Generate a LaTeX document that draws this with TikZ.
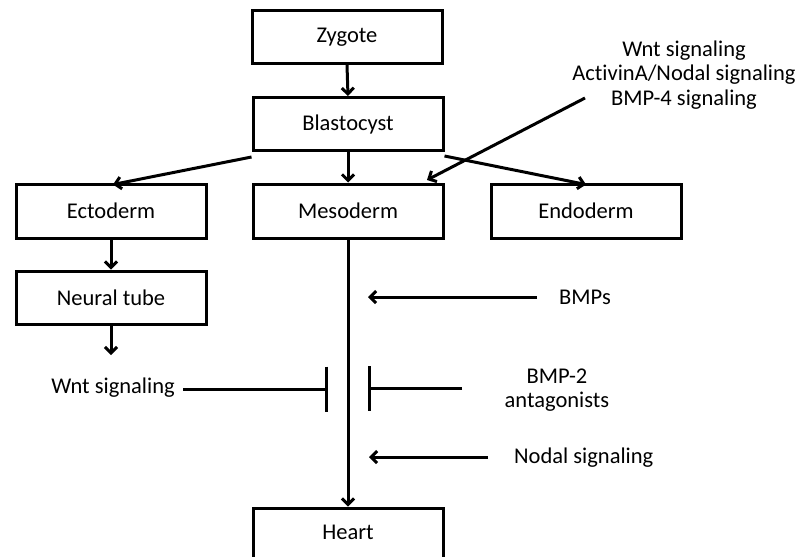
\documentclass[tikz,border=0pt]{standalone}
\usepackage{fontspec}
\setmainfont{Carlito}[Ligatures=NoCommon]
\usetikzlibrary{arrows.meta}
\begin{document}
\begin{tikzpicture}[x=1pt,y=-1pt,
  box/.style={draw,line width=3pt,minimum width=190pt,minimum height=53pt,inner sep=0pt,font=\fontsize{22.5}{24.5}\selectfont},
  lbl/.style={inner sep=0pt,align=center,font=\fontsize{22.5}{24.5}\selectfont},
  arr/.style={line width=3pt,-{Straight Barb[length=6pt,width=12pt]}},
  inh/.style={line width=3pt,-{Bar[width=45pt]}},
  ln/.style={line width=3pt}]
\clip (0,0) rectangle (801,557);
\fill[white] (0,0) rectangle (801,557);
\node[box] (zyg) at (347,37) {Zygote};
\node[box] (bla) at (348,124) {Blastocyst};
\node[box,minimum height=54pt] (ect) at (111,211) {Ectoderm};
\node[box,minimum height=54pt] (mes) at (348,211) {Mesoderm};
\node[box,minimum height=54pt] (endo) at (586,211) {Endoderm};
\node[box] (neu) at (111,297.5) {Neural tube};
\node[box,minimum height=56pt] (heart) at (348,536) {};
\node[lbl] (hearttxt) at (348,532) {Heart};
\node[lbl] (sig) at (684,75) {Wnt signaling\\ActivinA/Nodal signaling\\BMP-4 signaling};
\node[lbl] (wnt) at (113,388) {Wnt signaling};
\node[lbl] (bmps) at (585,297) {BMPs};
\node[lbl] (bmp2) at (557,390) {BMP-2\\antagonists};
\node[lbl,anchor=west] (nodal) at (514,458) {Nodal signaling};
\coordinate (sigs) at (585,98);
\coordinate (sige) at (427,180);
\coordinate (neuend) at (111,355);
\coordinate (wnts) at (183,389);
\coordinate (wnte) at (328,389);
\coordinate (bmpss) at (537,297);
\coordinate (bmpse) at (368,297);
\coordinate (b2s) at (462,388);
\coordinate (b2e) at (368,388);
\coordinate (nods) at (488,457);
\coordinate (node) at (369,457);
\draw[arr] (zyg.south) -- (bla.north);
\draw[arr] ([yshift=-5pt]bla.south west) -- ([xshift=2pt,yshift=-2pt]ect.north);
\draw[arr] ([yshift=-4pt]bla.south east) -- ([yshift=-2pt]endo.north);
\draw[arr] (bla.south) -- (mes.north);
\draw[arr] (sigs) -- (sige);
\draw[arr] (ect.south) -- (neu.north);
\draw[arr] (neu.south) -- (neuend);
\draw[arr] (mes.south) -- (heart.north);
\draw[inh] (wnts) -- (wnte);
\draw[arr] (bmpss) -- (bmpse);
\draw[inh] (b2s) -- (b2e);
\draw[arr] (nods) -- (node);
\end{tikzpicture}
\end{document}
